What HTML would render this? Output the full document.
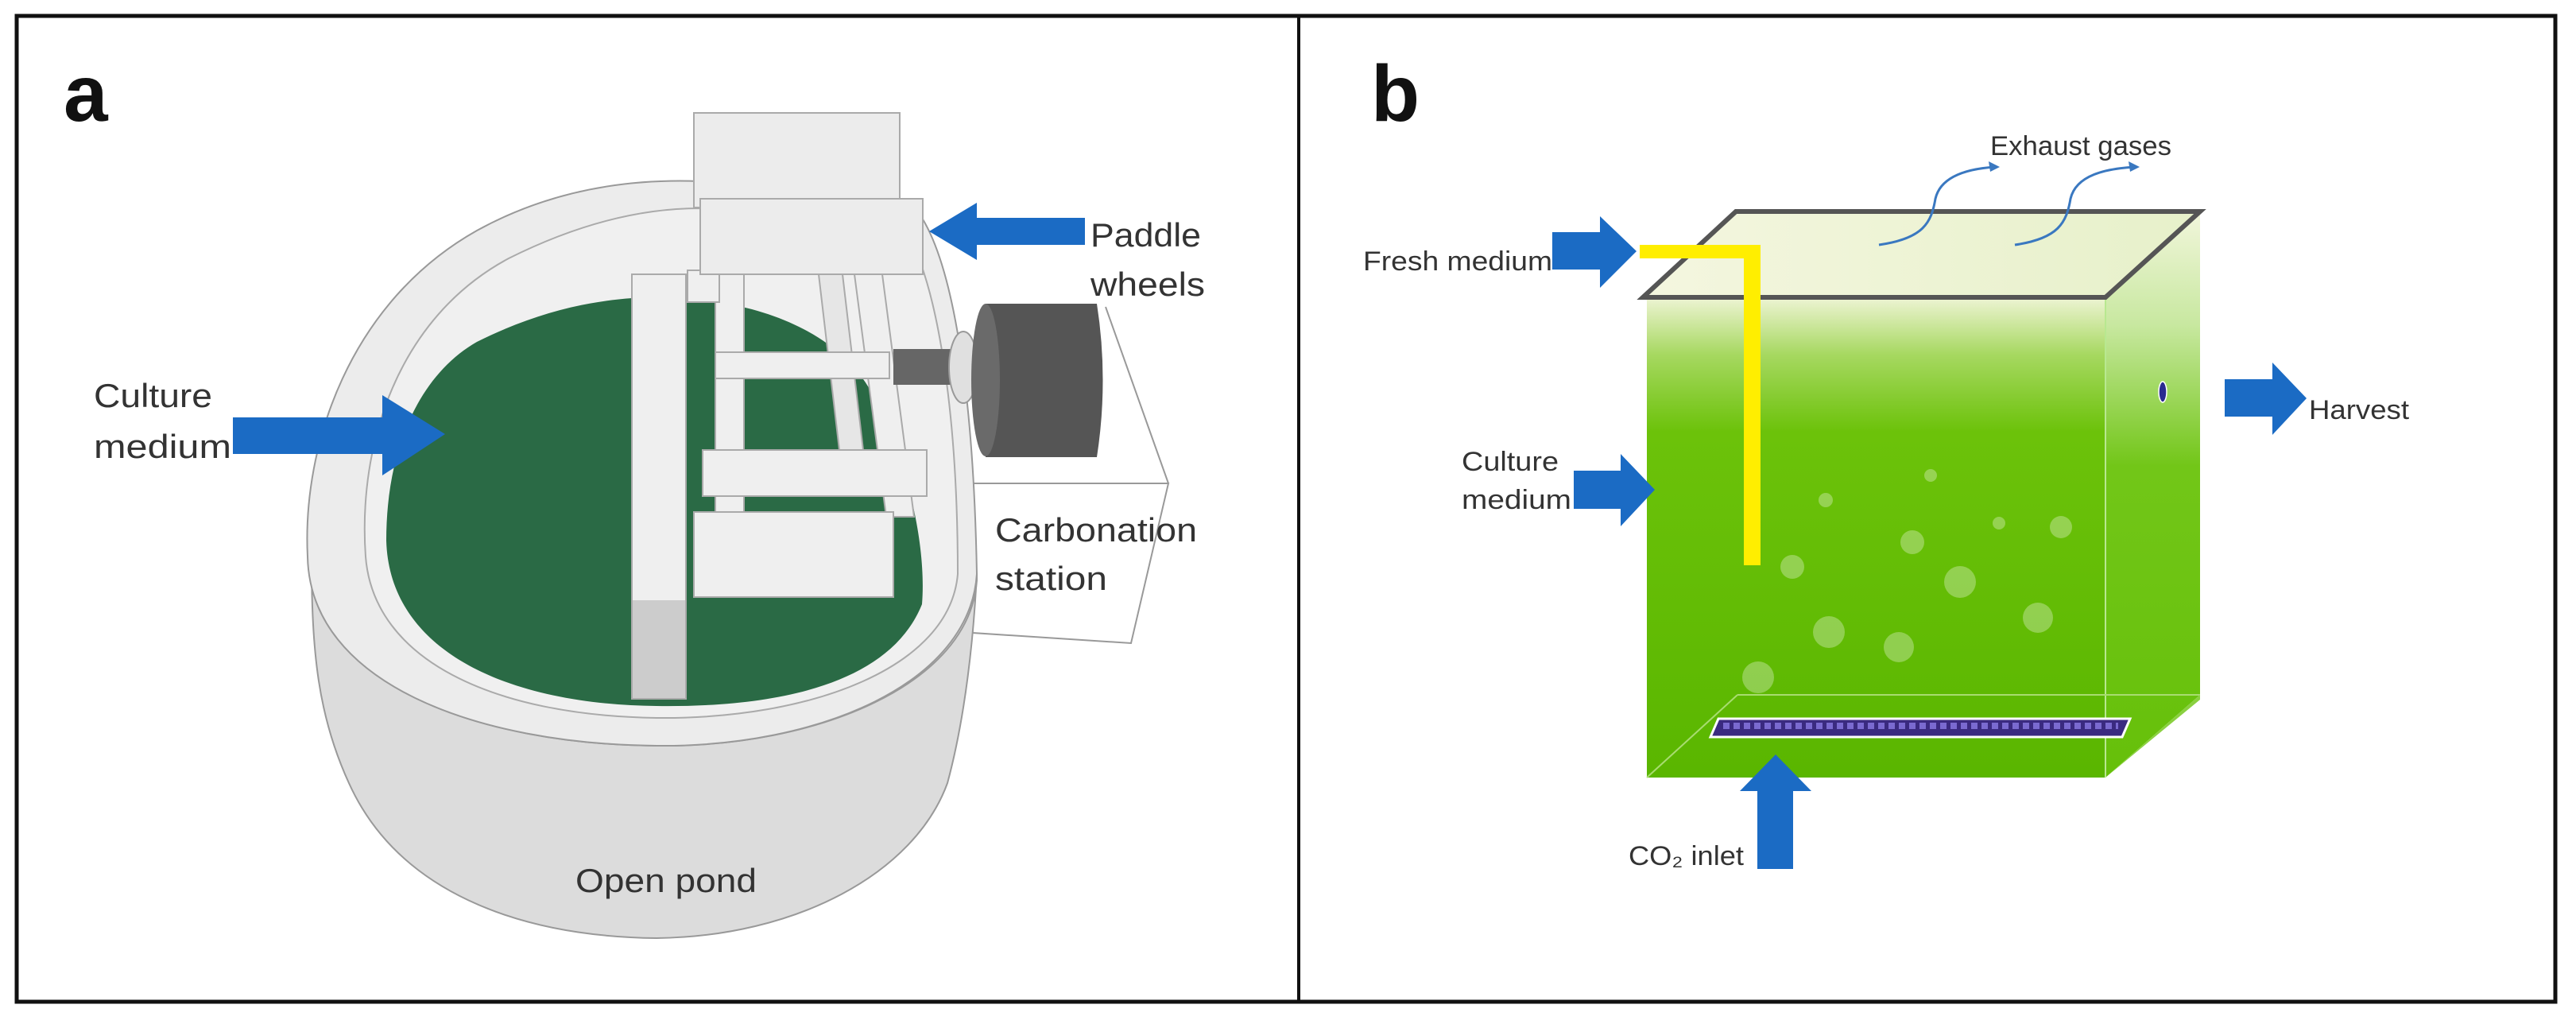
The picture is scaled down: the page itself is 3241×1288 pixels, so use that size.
<!DOCTYPE html>
<html><head><meta charset="utf-8"><style>
html,body{margin:0;padding:0;background:#fff;}
svg{display:block;}
text{font-family:"Liberation Sans",sans-serif;}
</style></head><body>
<svg width="3241" height="1288" viewBox="0 0 3241 1288" xmlns="http://www.w3.org/2000/svg">
<defs>
<linearGradient id="gf" x1="0" y1="0" x2="0" y2="1">
<stop offset="0" stop-color="#eef4d4"/>
<stop offset="0.12" stop-color="#a6d860"/>
<stop offset="0.28" stop-color="#6cc20a"/>
<stop offset="1" stop-color="#5ab600"/>
</linearGradient>
<linearGradient id="gs" x1="0" y1="0" x2="0" y2="1">
<stop offset="0" stop-color="#f2f6dc"/>
<stop offset="0.2" stop-color="#c8e8a0"/>
<stop offset="0.45" stop-color="#72c618"/>
<stop offset="1" stop-color="#66c00a"/>
</linearGradient>
<linearGradient id="gl" x1="0" y1="0" x2="1" y2="0">
<stop offset="0" stop-color="#f3f5dc"/>
<stop offset="1" stop-color="#e4efc4"/>
</linearGradient>
</defs>
<rect x="0" y="0" width="3241" height="1288" fill="#fff"/>
<!-- frame -->
<rect x="21" y="20" width="3194" height="1240" fill="none" stroke="#111" stroke-width="5"/>
<line x1="1634" y1="20" x2="1634" y2="1260" stroke="#111" stroke-width="4"/>

<!-- PANEL A -->
<text x="80" y="152" font-size="100" font-weight="bold" fill="#111">a</text>

<!-- carbonation station -->
<path d="M1203 608 L1470 608 L1423 809 L1224 796 Z" fill="#fff" stroke="#999" stroke-width="2"/>
<path d="M1391 386 L1470 608" fill="none" stroke="#999" stroke-width="2"/>

<!-- pond wall -->
<path d="M392 700 C392 820 400 900 439 985 C500 1120 650 1178 826 1180 C1000 1178 1150 1100 1192 985 C1215 900 1225 800 1229 722 L1229 730 C1220 860 1030 940 826 938 C600 936 392 860 392 700 Z" fill="#dcdcdc" stroke="#999" stroke-width="2"/>
<!-- rim -->
<path d="M387 700 C380 560 440 380 600 290 C700 235 800 225 880 228 L1150 260 C1200 320 1225 500 1229 722 C1220 860 1030 940 826 938 C600 936 390 860 387 700 Z" fill="#ececec" stroke="#999" stroke-width="2"/>
<!-- inner -->
<path d="M460 700 C450 560 500 400 640 325 C740 275 820 262 880 262 L1140 290 C1180 360 1205 520 1205 722 C1195 840 1020 905 826 903 C620 900 470 830 460 700 Z" fill="#f0f0f0" stroke="#aaa" stroke-width="2"/>
<!-- water -->
<path d="M486 680 C486 560 530 470 600 430 C680 390 760 372 840 374 C960 378 1060 420 1100 500 C1150 600 1165 700 1160 760 C1120 860 980 890 826 888 C640 886 490 820 486 680 Z" fill="#2a6a45"/>

<!-- paddle frame -->
<polygon points="900,345 936,345 936,650 900,650" fill="#efefef" stroke="#aaa" stroke-width="2"/>
<polygon points="1075,345 1110,345 1150,650 1115,650" fill="#efefef" stroke="#aaa" stroke-width="2"/>
<polygon points="1030,345 1060,345 1090,600 1060,600" fill="#e6e6e6" stroke="#aaa" stroke-width="2"/>
<rect x="865" y="340" width="40" height="40" fill="#efefef" stroke="#aaa" stroke-width="2"/>
<rect x="900" y="443" width="219" height="33" fill="#efefef" stroke="#aaa" stroke-width="2"/>
<rect x="1124" y="439" width="74" height="45" fill="#666"/>
<ellipse cx="1212" cy="462" rx="18" ry="45" fill="#e0e0e0" stroke="#999" stroke-width="2"/>
<path d="M1240 382 L1380 382 Q1395 478 1380 575 L1240 575 Z" fill="#555"/>
<ellipse cx="1240" cy="478" rx="18" ry="96" fill="#6a6a6a"/>
<rect x="884" y="566" width="282" height="58" fill="#efefef" stroke="#aaa" stroke-width="2"/>
<rect x="873" y="644" width="251" height="107" fill="#efefef" stroke="#aaa" stroke-width="2"/>
<rect x="795" y="345" width="68" height="534" fill="#efefef" stroke="#aaa" stroke-width="2"/>
<rect x="796" y="755" width="66" height="123" fill="#cccccc"/>
<rect x="873" y="142" width="259" height="119" fill="#ececec" stroke="#aaa" stroke-width="2"/>
<rect x="881" y="250" width="280" height="95" fill="#ececec" stroke="#aaa" stroke-width="2"/>

<!-- arrows a -->
<polygon points="1365,274 1229,274 1229,255 1169,291 1229,327 1229,308 1365,308" fill="#1b6bc4"/>
<polygon points="293,525 481,525 481,497 560,546 481,598 481,571 293,571" fill="#1b6bc4"/>

<g fill="#333" font-size="42">
<text x="1372" y="310" textLength="139" lengthAdjust="spacingAndGlyphs">Paddle</text>
<text x="1372" y="372" textLength="144" lengthAdjust="spacingAndGlyphs">wheels</text>
<text x="118" y="512" textLength="149" lengthAdjust="spacingAndGlyphs">Culture</text>
<text x="118" y="576" textLength="173" lengthAdjust="spacingAndGlyphs">medium</text>
<text x="1252" y="681" textLength="254" lengthAdjust="spacingAndGlyphs">Carbonation</text>
<text x="1252" y="742" textLength="141" lengthAdjust="spacingAndGlyphs">station</text>
<text x="724" y="1122" textLength="228" lengthAdjust="spacingAndGlyphs">Open pond</text>
</g>

<!-- PANEL B -->
<text x="1725" y="152" font-size="100" font-weight="bold" fill="#111">b</text>

<!-- side face -->
<polygon points="2649,374 2768,266 2768,874 2649,978" fill="url(#gs)"/>
<!-- front -->
<rect x="2072" y="374" width="577" height="604" fill="url(#gf)"/>
<line x1="2649" y1="374" x2="2649" y2="978" stroke="#b8e890" stroke-width="2"/>
<line x1="2186" y1="874" x2="2768" y2="874" stroke="#a8dc70" stroke-width="2"/>
<line x1="2186" y1="874" x2="2072" y2="978" stroke="#a8dc70" stroke-width="2"/>
<polygon points="2649,978 2768,874 2768,880 2649,978" fill="#8ad040"/>
<!-- lid -->
<polygon points="2184,266 2768,266 2649,374 2067,374" fill="url(#gl)" fill-opacity="0.9" stroke="#555" stroke-width="6"/>

<!-- bubbles -->
<g fill="#ffffff" fill-opacity="0.3">
<circle cx="2255" cy="713" r="15"/><circle cx="2297" cy="629" r="9"/>
<circle cx="2429" cy="598" r="8"/><circle cx="2406" cy="682" r="15"/>
<circle cx="2466" cy="732" r="20"/><circle cx="2515" cy="658" r="8"/>
<circle cx="2593" cy="663" r="14"/><circle cx="2301" cy="795" r="20"/>
<circle cx="2389" cy="814" r="19"/><circle cx="2564" cy="777" r="19"/>
<circle cx="2212" cy="852" r="20"/>
</g>
<!-- sparger -->
<polygon points="2162,904 2680,904 2670,927 2152,927" fill="#3a2a80" stroke="#fff" stroke-width="3"/>
<line x1="2168" y1="913" x2="2665" y2="913" stroke="#7a6ad0" stroke-width="8" stroke-dasharray="8 5"/>
<ellipse cx="2721" cy="493" rx="5" ry="13" fill="#2a2a90" stroke="#fff" stroke-width="1.5"/>

<!-- yellow pipe -->
<rect x="2063" y="308" width="152" height="17" fill="#ffee00"/>
<rect x="2194" y="308" width="21" height="403" fill="#ffee00"/>

<!-- exhaust curves -->
<g fill="none" stroke="#3a78c0" stroke-width="3">
<path d="M2364 308 C2420 300 2430 280 2435 250 C2442 220 2480 212 2510 210"/>
<path d="M2535 308 C2590 300 2600 280 2605 250 C2612 220 2650 212 2686 210"/>
</g>
<polygon points="2516,210 2502,203 2504,216" fill="#3a78c0"/>
<polygon points="2692,210 2678,203 2680,216" fill="#3a78c0"/>

<!-- arrows b -->
<polygon points="1953,292 2013,292 2013,272 2059,316 2013,362 2013,339 1953,339" fill="#1b6bc4"/>
<polygon points="1980,592 2039,592 2039,571 2082,616 2039,662 2039,640 1980,640" fill="#1b6bc4"/>
<polygon points="2799,477 2859,477 2859,456 2902,501 2859,547 2859,524 2799,524" fill="#1b6bc4"/>
<polygon points="2211,1093 2211,995 2189,995 2234,949 2279,995 2256,995 2256,1093" fill="#1b6bc4"/>

<g fill="#333" font-size="34">
<text x="1715" y="340" textLength="238" lengthAdjust="spacingAndGlyphs">Fresh medium</text>
<text x="1839" y="592" textLength="122" lengthAdjust="spacingAndGlyphs">Culture</text>
<text x="1839" y="640" textLength="138" lengthAdjust="spacingAndGlyphs">medium</text>
<text x="2905" y="527" textLength="126" lengthAdjust="spacingAndGlyphs">Harvest</text>
<text x="2504" y="195" textLength="228" lengthAdjust="spacingAndGlyphs">Exhaust gases</text>
<text x="2049" y="1088" textLength="145" lengthAdjust="spacingAndGlyphs">CO₂ inlet</text>
</g>
</svg>
</body></html>
